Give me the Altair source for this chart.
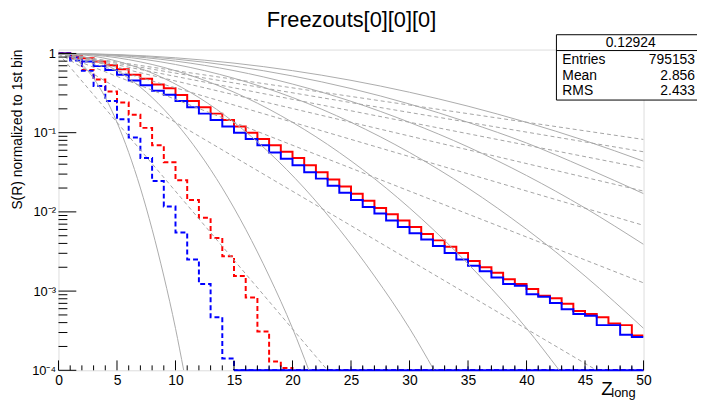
import altair as alt
import pandas as pd

TITLE = "Freezouts[0][0][0]"
Y_TITLE = "S(R) normalized to 1st bin"
STAT_HEADER = "0.12924"
STAT_NAMES = ["Entries", "Mean", "RMS"]
STAT_VALUES = ["795153", "2.856", "2.433"]

X_TICK_LABELS = [0, 5, 10, 15, 20, 25, 30, 35, 40, 45, 50]
Y_TICK_LABELS = [1e-4, 1e-3, 1e-2, 1e-1, 1.0]

# histogram contents, bins of width 1 from 0 to 50 (normalized to 1st bin)
red_solid = [1.0, 0.933, 0.871, 0.794, 0.708, 0.631, 0.537, 0.479, 0.407, 0.363,
             0.299, 0.251, 0.209, 0.174, 0.145, 0.120, 0.100, 0.0832, 0.0692, 0.0575,
             0.0479, 0.0389, 0.0316, 0.0257, 0.0209, 0.0170, 0.0138, 0.0112, 0.00933, 0.00776,
             0.00646, 0.00525, 0.00437, 0.00363, 0.00302, 0.00240, 0.00200, 0.00170, 0.00141, 0.00123,
             0.00106, 0.000871, 0.000813, 0.000692, 0.000562, 0.000513, 0.000468, 0.000389, 0.000372, 0.000275]
blue_solid = [1.0, 0.891, 0.794, 0.692, 0.617, 0.537, 0.457, 0.398, 0.339, 0.302,
              0.251, 0.209, 0.174, 0.145, 0.120, 0.100, 0.0832, 0.0692, 0.0562, 0.0468,
              0.0389, 0.0316, 0.0263, 0.0214, 0.0174, 0.0141, 0.0115, 0.00955, 0.00776, 0.00646,
              0.00537, 0.00447, 0.00372, 0.00302, 0.00251, 0.00209, 0.00178, 0.00148, 0.00123, 0.00117,
              0.000912, 0.000851, 0.000708, 0.000589, 0.000513, 0.000490, 0.000372, 0.000372, 0.000282, 0.000263]
red_dashed = [1.0, 0.871, 0.617, 0.468, 0.331, 0.240, 0.168, 0.115, 0.0692, 0.0422,
              0.0251, 0.0141, 0.00841, 0.00468, 0.00275, 0.00155, 0.000832, 0.000309, 0.000129, 0.000107] + [0] * 30
blue_dashed = [1.0, 0.813, 0.603, 0.389, 0.251, 0.148, 0.0871, 0.0479, 0.0245, 0.0117,
               0.00550, 0.00251, 0.00123, 0.000468, 0.000141] + [0] * 35

# grey solid reference curves
g1_x = [0, 1, 2, 3, 4, 5, 6, 7, 8, 9, 10, 10.7]
g1_v = [1, 0.923, 0.726, 0.486, 0.278, 0.135, 0.0562, 0.0200, 0.00603, 0.00155, 0.000339, 0.0001]
g2_x = [0, 2, 4, 6, 8, 10, 12, 14, 16, 18, 20, 21.4]
g2_v = [1, 0.923, 0.726, 0.486, 0.278, 0.135, 0.0562, 0.0200, 0.00603, 0.00155, 0.000339, 0.0001]
g3_x = [0, 3, 6, 9, 12, 15, 18, 21, 24, 27, 30, 32.1]
g3_v = [1, 0.923, 0.726, 0.486, 0.278, 0.135, 0.0562, 0.0200, 0.00603, 0.00155, 0.000339, 0.0001]
g4_x = [0, 4, 8, 12, 16, 20, 24, 28, 32, 36, 40, 42.8]
g4_v = [1, 0.923, 0.726, 0.486, 0.278, 0.135, 0.0562, 0.0200, 0.00603, 0.00155, 0.000339, 0.0001]
g5_x = [0, 5, 10, 15, 20, 25, 30, 35, 40, 45, 50]
g5_v = [1, 0.923, 0.726, 0.486, 0.278, 0.135, 0.0562, 0.0200, 0.00603, 0.00155, 0.000339]
g6_x = [0, 5, 10, 15, 20, 25, 30, 35, 40, 45, 50]
g6_v = [1, 0.946, 0.801, 0.607, 0.411, 0.249, 0.135, 0.0661, 0.0288, 0.0112, 0.00389]
g7_x = [0, 5, 10, 15, 20, 25, 30, 35, 40, 45, 50]
g7_v = [1, 0.960, 0.849, 0.692, 0.520, 0.361, 0.230, 0.135, 0.0741, 0.0363, 0.0170]
g8_x = [0, 5, 10, 15, 20, 25, 30, 35, 40, 45, 50]
g8_v = [1, 0.969, 0.882, 0.755, 0.607, 0.458, 0.324, 0.216, 0.135, 0.0794, 0.0437]

# grey dashed reference curves: start (0, 1) and end points
dashed_end_x = [23.0, 46.0, 50, 50, 50, 50, 50, 50]
dashed_end_v = [0.0001, 0.0001, 0.00127, 0.00676, 0.0183, 0.0357, 0.0574, 0.0821]

W, H = 591, 324
FLOOR = 1e-4
TOP = 1.12
FONT = "Liberation Sans"

x_scale = alt.Scale(domain=[0, 50], nice=False, zero=False)
y_scale = alt.Scale(type="log", domain=[FLOOR, TOP], nice=False)

x_axis = alt.Axis(values=X_TICK_LABELS, title=None, ticks=False, tickSize=0, domain=False,
                  grid=False, labelFont=FONT, labelFontSize=14, labelColor="black",
                  labelPadding=3, labelFlush=False, labelOverlap=False)
y_axis = alt.Axis(values=Y_TICK_LABELS, title=None, ticks=False, tickSize=0, domain=False,
                  grid=False, labelFont=FONT, labelFontSize=13, labelColor="black",
                  labelPadding=3, labelOverlap=False,
                  labelExpr="['10⁻⁴','10⁻³','10⁻²','10⁻¹','1'][round(log(datum.value)/LN10)+4]")

X = alt.X("x:Q", scale=x_scale, axis=x_axis)
Y = alt.Y("v:Q", scale=y_scale, axis=y_axis)


def hist_frame(vals):
    xs = list(range(len(vals) + 1))
    vs = [v if v > 0 else FLOOR for v in vals]
    vs = vs + [vs[-1]]
    return pd.DataFrame({"x": xs, "v": vs})


def hist_layer(vals, color, dash=None):
    kw = dict(interpolate="step-after", color=color, strokeWidth=2, clip=True)
    if dash:
        kw["strokeDash"] = dash
    return alt.Chart(hist_frame(vals)).mark_line(**kw).encode(x=X, y=Y)


layers = []
layers.append(hist_layer(red_solid, "#ff0000"))
layers.append(hist_layer(blue_solid, "#0000ff"))
layers.append(hist_layer(red_dashed, "#ff0000", [5, 3]))
layers.append(hist_layer(blue_dashed, "#0000ff", [5, 3]))

# zero-content bins of the blue dashed histogram sit on the floor
first_zero = next(i for i, v in enumerate(blue_dashed) if v == 0)
floor_df = pd.DataFrame({"x": [first_zero], "x2": [len(blue_dashed)], "v": [FLOOR]})
layers.append(alt.Chart(floor_df).mark_rule(color="#0000ff", strokeWidth=2)
              .encode(x=X, x2="x2:Q", y=Y))
edge_df = pd.DataFrame({"x": list(range(first_zero + 1, len(blue_dashed)))})
layers.append(alt.Chart(edge_df).mark_rule(color="#0000ff", strokeWidth=1)
              .encode(x=X, y=alt.value(H), y2=alt.value(H - 4)))

# grey curves
gauss = [(g1_x, g1_v), (g2_x, g2_v), (g3_x, g3_v), (g4_x, g4_v),
         (g5_x, g5_v), (g6_x, g6_v), (g7_x, g7_v), (g8_x, g8_v)]
solid_df = pd.DataFrame([{"x": x, "v": v, "c": i}
                         for i, (xs, vs) in enumerate(gauss) for x, v in zip(xs, vs)])
layers.append(alt.Chart(solid_df).mark_line(color="#ababab", strokeWidth=1,
                                             interpolate="monotone", clip=True)
              .encode(x=X, y=Y, detail="c:N"))
dash_rows = []
for i, (ex, ev) in enumerate(zip(dashed_end_x, dashed_end_v)):
    dash_rows.append({"x": 0, "v": 1.0, "c": i})
    dash_rows.append({"x": ex, "v": ev, "c": i})
dashed_df = pd.DataFrame(dash_rows)
layers.append(alt.Chart(dashed_df).mark_line(color="#a4a4a4", strokeWidth=1,
                                              strokeDash=[4, 3], clip=True)
              .encode(x=X, y=Y, detail="c:N"))

# inward ticks
xt_major = pd.DataFrame({"x": X_TICK_LABELS})
xt_minor = pd.DataFrame({"x": [i for i in range(0, 51) if i % 5]})
layers.append(alt.Chart(xt_major).mark_rule(color="black", strokeWidth=1)
              .encode(x=X, y=alt.value(H), y2=alt.value(H - 10)))
layers.append(alt.Chart(xt_minor).mark_rule(color="black", strokeWidth=1)
              .encode(x=X, y=alt.value(H), y2=alt.value(H - 5)))
yt_major = pd.DataFrame({"v": Y_TICK_LABELS})
yt_minor = pd.DataFrame({"v": [k * 10.0 ** e for e in range(-4, 0) for k in range(2, 10)]})
layers.append(alt.Chart(yt_major).mark_rule(color="black", strokeWidth=1)
              .encode(y=Y, x=alt.value(0), x2=alt.value(18)))
layers.append(alt.Chart(yt_minor).mark_rule(color="black", strokeWidth=1)
              .encode(y=Y, x=alt.value(0), x2=alt.value(9)))

# stats box
one = pd.DataFrame({"a": [0]})
layers.append(alt.Chart(one).mark_rect(fill="white", stroke="black", strokeWidth=1)
              .encode(x=alt.value(503), x2=alt.value(660), y=alt.value(-15), y2=alt.value(51)))
layers.append(alt.Chart(one).mark_rule(color="black", strokeWidth=1)
              .encode(x=alt.value(503), x2=alt.value(660), y=alt.value(1)))
layers.append(alt.Chart(one).mark_text(text=STAT_HEADER, font=FONT, fontSize=14, align="center",
                                       baseline="middle", color="black")
              .encode(x=alt.value(578), y=alt.value(-7)))
for i, (name, val) in enumerate(zip(STAT_NAMES, STAT_VALUES)):
    yy = 11 + i * 15.5
    layers.append(alt.Chart(one).mark_text(text=name, font=FONT, fontSize=14, align="left",
                                           baseline="middle", color="black")
                  .encode(x=alt.value(509), y=alt.value(yy)))
    layers.append(alt.Chart(one).mark_text(text=val, font=FONT, fontSize=14, align="right",
                                           baseline="middle", color="black")
                  .encode(x=alt.value(643), y=alt.value(yy)))

# titles
layers.append(alt.Chart(one).mark_text(text=TITLE, font=FONT, fontSize=22, align="center",
                                       baseline="middle", color="black")
              .encode(x=alt.value(296), y=alt.value(-30)))
layers.append(alt.Chart(one).mark_text(text=Y_TITLE, font=FONT, fontSize=14, angle=270,
                                       align="right", baseline="middle", color="black")
              .encode(x=alt.value(-41), y=alt.value(0)))
layers.append(alt.Chart(one).mark_text(text="Z", font=FONT, fontSize=19, align="right",
                                       baseline="alphabetic", color="black")
              .encode(x=alt.value(560), y=alt.value(349)))
layers.append(alt.Chart(one).mark_text(text="long", font=FONT, fontSize=13, align="right",
                                       baseline="alphabetic", color="black")
              .encode(x=alt.value(583), y=alt.value(351)))

chart = alt.layer(*layers).properties(
    width=W, height=H,
    padding={"left": 51, "top": 40, "right": 54, "bottom": 28},
    autosize=alt.AutoSizeParams(type="none"),
    background="white",
).configure_view(stroke="black", strokeWidth=1).configure(font=FONT)

chart.save("out.html", embed_options={"renderer": "svg", "actions": False})
